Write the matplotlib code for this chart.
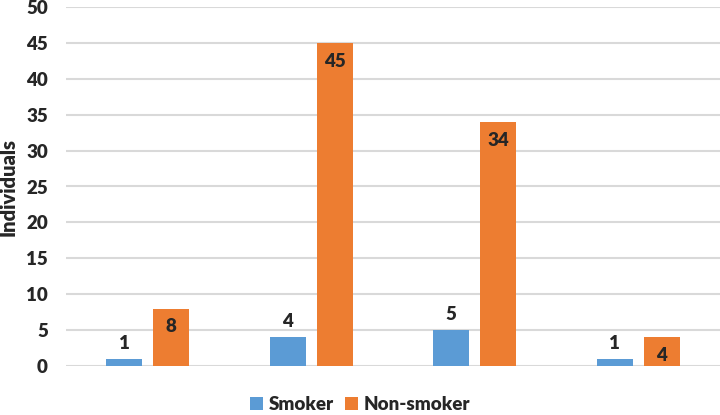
import matplotlib.pyplot as plt
import numpy as np

plt.rcParams['font.family'] = ['Lato', 'DejaVu Sans']

grupos = ['G1', 'G2', 'G3', 'G4']
fumantes = [1, 4, 5, 1]
nao_fumantes = [8, 45, 34, 4]

azul = '#5B9BD5'
laranja = '#ED7D31'
texto = '#262626'
peso = 'heavy'

fig = plt.figure(figsize=(7.2, 4.15), dpi=100)
ax = fig.add_axes([66/720, 1 - 366/415, 1 - 66/720, (366 - 7)/415])

x = np.arange(len(grupos))
largura = 0.22
desloc = 0.144

b1 = ax.bar(x - desloc, fumantes, width=largura, color=azul, label='Smoker', zorder=3)
b2 = ax.bar(x + desloc, nao_fumantes, width=largura, color=laranja, label='Non-smoker', zorder=3)

# rotulos: fumantes acima, nao fumantes dentro da barra
for barra in b1:
    h = barra.get_height()
    ax.annotate(f'{h:g}', xy=(barra.get_x() + barra.get_width()/2, h),
                xytext=(0, 5), textcoords='offset points', ha='center', va='bottom',
                fontsize=13.5, fontweight=peso, color=texto)
for barra in b2:
    h = barra.get_height()
    ax.annotate(f'{h:g}', xy=(barra.get_x() + barra.get_width()/2, h),
                xytext=(0, -7), textcoords='offset points', ha='center', va='top',
                fontsize=13.5, fontweight=peso, color=texto)

ax.set_xlim(-0.5, 3.5)
ax.set_ylim(0, 50)
ax.set_yticks(np.arange(0, 51, 5))
ax.set_xticks([])
ax.tick_params(axis='y', length=0, pad=13, labelsize=13.5, labelcolor=texto)
for lbl in ax.get_yticklabels():
    lbl.set_fontweight(peso)
ax.grid(axis='y', color='#D9D9D9', linewidth=1.5, zorder=0)
for s in ax.spines.values():
    s.set_visible(False)

ax.set_ylabel('Individuals', fontsize=14.5, fontweight=peso, color=texto, labelpad=6)

fig.legend(handles=[b1, b2], loc='lower center', bbox_to_anchor=(0.5, -0.035), ncol=2,
           frameon=False, handlelength=0.7, handleheight=0.7, handletextpad=0.3,
           columnspacing=0.6, prop={'size': 13.5, 'weight': peso}, labelcolor=texto)

fig.savefig('out.png', dpi=100)
